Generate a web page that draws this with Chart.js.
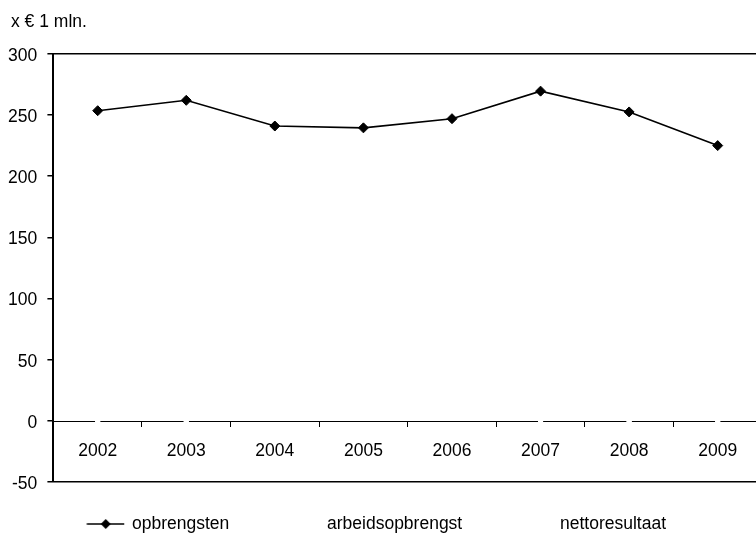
<!DOCTYPE html>
<html>
<head>
<meta charset="utf-8">
<script src="https://cdn.jsdelivr.net/npm/chart.js@4/dist/chart.umd.min.js"></script>
<style>
  html, body { margin: 0; padding: 0; background: #fff; overflow: hidden; }
  #wrap { position: relative; width: 756px; height: 534px; overflow: hidden; }
  #unit { position: absolute; left: 11px; top: 13px; font: 17.5px "Liberation Sans", Arial, sans-serif; line-height: 1; color: #000; }
  canvas { position: absolute; left: 0; top: 0; }
</style>
</head>
<body>
<div id="wrap">
  <canvas id="chart" width="768" height="534"></canvas>
  <div id="unit">x € 1 mln.</div>
</div>
<script>
const years = ["2002", "2003", "2004", "2005", "2006", "2007", "2008", "2009"];
const opbrengsten = [253.5, 262, 241, 239.5, 247, 269.5, 252.5, 225];
// the other two series sit at zero and are drawn in white
const arbeidsopbrengst = [0, 0, null, null, null, 0, 0, 0];
const nettoresultaat = [0, 0, null, null, null, 0, 0, 0];
const yTicks = [-50, 0, 50, 100, 150, 200, 250, 300];

const FONT = { family: "'Liberation Sans', Arial, sans-serif", size: 17.5 };

// legend sample: line with a diamond
function legendSample(color) {
  const c = document.createElement("canvas");
  c.width = 60; c.height = 12;
  const g = c.getContext("2d");
  g.strokeStyle = color; g.fillStyle = color; g.lineWidth = 1.5;
  g.beginPath(); g.moveTo(21.5, 6); g.lineTo(59, 6); g.stroke();
  g.beginPath();
  g.moveTo(40.5, 1); g.lineTo(45.5, 6); g.lineTo(40.5, 11); g.lineTo(35.5, 6);
  g.closePath(); g.fill();
  return c;
}
const sampleBlack = legendSample("#000");
const sampleWhite = legendSample("#fff");

new Chart(document.getElementById("chart"), {
  type: "line",
  data: {
    labels: years,
    datasets: [
      {
        label: "opbrengsten",
        data: opbrengsten,
        borderColor: "#000",
        backgroundColor: "#000",
        borderWidth: 1.6,
        pointStyle: "rectRot",
        pointRadius: 5,
        pointBorderWidth: 1,
        tension: 0,
      },
      {
        label: "arbeidsopbrengst",
        data: arbeidsopbrengst,
        borderColor: "#fff",
        backgroundColor: "#fff",
        showLine: false,
        pointStyle: "rectRot",
        pointRadius: 2.5,
      },
      {
        label: "nettoresultaat",
        data: nettoresultaat,
        borderColor: "#fff",
        backgroundColor: "#fff",
        showLine: false,
        pointStyle: "rectRot",
        pointRadius: 2.5,
      },
    ],
  },
  options: {
    responsive: false,
    animation: false,
    layout: { padding: { left: 34.2, top: 53.8, right: 3, bottom: 0 } },
    plugins: {
      title: { display: false },
      tooltip: { enabled: false },
      legend: {
        position: "bottom",
        align: "start",
        maxHeight: 51.8,
        labels: {
          usePointStyle: true,
          pointStyleWidth: 56,
          padding: 33,
          color: "#000",
          font: FONT,
          generateLabels: (chart) => {
            const items = Chart.defaults.plugins.legend.labels.generateLabels(chart);
            items.forEach((it, i) => { it.pointStyle = i === 0 ? sampleBlack : sampleWhite; });
            return items;
          },
        },
      },
    },
    scales: {
      x: {
        type: "category",
        position: { y: 0 },
        offset: true,
        grid: {
          offset: true,
          drawOnChartArea: false,
          drawTicks: true,
          tickLength: 5,
          color: "#000",
          lineWidth: 1,
        },
        border: { display: true, color: "#000", width: 1 },
        ticks: { color: "#000", font: FONT, padding: 15, maxRotation: 0, autoSkip: false },
      },
      y: {
        min: -50,
        max: 300,
        afterFit: (scale) => { scale.width = 19.2; },
        afterBuildTicks: (scale) => { scale.ticks = yTicks.map((v) => ({ value: v })); },
        grid: {
          color: (ctx) => (ctx.tick && (ctx.tick.value === 300 || ctx.tick.value === -50) ? "#000" : "rgba(0,0,0,0)"),
          tickColor: "#000",
          tickLength: 6,
          lineWidth: 1.5,
        },
        border: { display: true, color: "#000", width: 2 },
        // mirrored so the labels are not clipped to the narrow axis box
        ticks: { color: "#000", font: FONT, mirror: true, crossAlign: "far", padding: -45.3, labelOffset: 2 },
      },
    },
  },
});
</script>
</body>
</html>
